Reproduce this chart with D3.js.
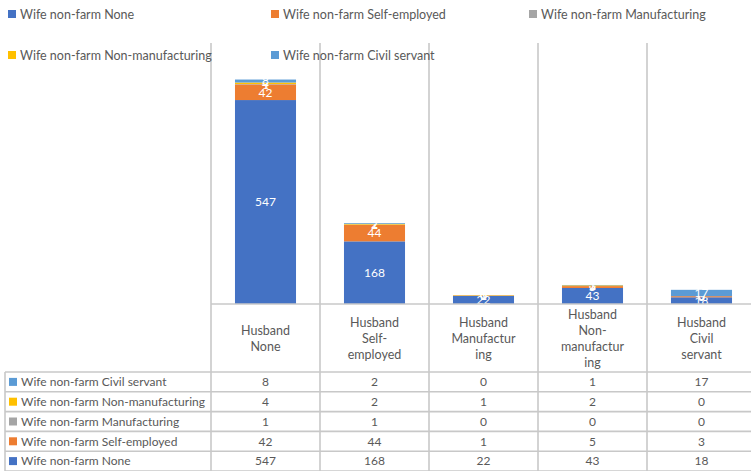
<!DOCTYPE html>
<html>
<head>
<meta charset="utf-8">
<script src="https://cdn.jsdelivr.net/npm/d3@7"></script>
<style>
  body { margin: 0; background: #fff; }
  svg text { font-family: Lato, "Open Sans", sans-serif; }
</style>
</head>
<body>
<div id="chart"></div>
<script>
// data
var categories = ["Husband None", "Husband Self-employed", "Husband Manufacturing", "Husband Non-manufacturing", "Husband Civil servant"];
var categoryLines = [["Husband", "None"], ["Husband", "Self-", "employed"], ["Husband", "Manufactur", "ing"], ["Husband", "Non-", "manufactur", "ing"], ["Husband", "Civil", "servant"]];
var seriesNames = ["Wife non-farm None", "Wife non-farm Self-employed", "Wife non-farm Manufacturing", "Wife non-farm Non-manufacturing", "Wife non-farm Civil servant"];
var wifeNone = [547, 168, 22, 43, 18];
var wifeSelf = [42, 44, 1, 5, 3];
var wifeManu = [1, 1, 0, 0, 0];
var wifeNonManu = [4, 2, 1, 2, 0];
var wifeCivil = [8, 2, 0, 1, 17];
var colors = ["#4472C4", "#ED7D31", "#A5A5A5", "#FFC000", "#5B9BD5"];

var series = [wifeNone, wifeSelf, wifeManu, wifeNonManu, wifeCivil];

var W = 751, H = 471;
var plotLeft = 211, plotTop = 43, plotBottom = 304;
var colW = 109;
var headerBottom = 372, rowH = 19.8;
var gridColor = "#c8c8c8", textColor = "#595959";

var svg = d3.select("#chart").append("svg")
    .attr("width", W)
    .attr("height", H);

var x = d3.scaleBand()
    .domain(categories)
    .range([plotLeft, plotLeft + colW * categories.length])
    .paddingInner(0)
    .paddingOuter(0);

var y = d3.scaleLinear().domain([0, 700]).range([plotBottom, plotTop]);

var rows = categories.map(function(c, i) {
    var r = { cat: c };
    seriesNames.forEach(function(s, j) { r[s] = series[j][i]; });
    return r;
});
var stacked = d3.stack().keys(seriesNames)(rows);

// vertical grid (category separators)
var edges = d3.range(categories.length + 1).map(function(i) { return plotLeft + colW * i; });
svg.append("g").selectAll("line")
    .data(edges)
    .enter().append("line")
    .attr("x1", function(d) { return d; })
    .attr("x2", function(d) { return d; })
    .attr("y1", plotTop)
    .attr("y2", headerBottom)
    .attr("stroke", gridColor)
    .attr("stroke-width", 1.6);

// bars
var barW = x.bandwidth() * 0.56;
var layers = svg.append("g").selectAll("g")
    .data(stacked)
    .enter().append("g")
    .attr("fill", function(d, i) { return colors[i]; });

layers.selectAll("rect")
    .data(function(d) { return d; })
    .enter().append("rect")
    .attr("x", function(d) { return x(d.data.cat) + (x.bandwidth() - barW) / 2; })
    .attr("width", barW)
    .attr("y", function(d) { return y(d[1]); })
    .attr("height", function(d) { return y(d[0]) - y(d[1]); });

// data labels (they pile up on the thin segments, as in the original)
layers.selectAll("text")
    .data(function(d) { return d; })
    .enter().append("text")
    .attr("x", function(d) { return x(d.data.cat) + x.bandwidth() / 2; })
    .attr("y", function(d) { return (y(d[0]) + y(d[1])) / 2; })
    .attr("dy", "0.36em")
    .attr("text-anchor", "middle")
    .attr("fill", "#fff")
    .attr("font-size", 12)
    .text(function(d) { return d[1] - d[0]; });

// table: horizontal lines
svg.append("line")
    .attr("x1", plotLeft).attr("x2", W)
    .attr("y1", plotBottom).attr("y2", plotBottom)
    .attr("stroke", gridColor).attr("stroke-width", 1.6);

var rowLines = d3.range(seriesNames.length + 1).map(function(i) { return headerBottom + rowH * i; });
svg.append("g").selectAll("line")
    .data(rowLines)
    .enter().append("line")
    .attr("x1", 5).attr("x2", W)
    .attr("y1", function(d) { return d; })
    .attr("y2", function(d) { return d; })
    .attr("stroke", gridColor)
    .attr("stroke-width", 1.6);

// table vertical lines
svg.append("g").selectAll("line")
    .data([5].concat(edges))
    .enter().append("line")
    .attr("x1", function(d) { return d; })
    .attr("x2", function(d) { return d; })
    .attr("y1", headerBottom)
    .attr("y2", H)
    .attr("stroke", gridColor)
    .attr("stroke-width", 1.6);

// category header labels
var headers = svg.append("g").selectAll("text")
    .data(categories)
    .enter().append("text")
    .attr("text-anchor", "middle")
    .attr("fill", textColor)
    .attr("font-size", 12.5)
    .attr("x", function(d) { return x(d) + x.bandwidth() / 2; })
    .attr("y", function(d, i) {
        var n = categoryLines[i].length;
        return (plotBottom + headerBottom) / 2 - (n - 1) * 16 / 2;
    });

headers.selectAll("tspan")
    .data(function(d, i) { return categoryLines[i]; })
    .enter().append("tspan")
    .attr("x", function() { return this.parentNode.getAttribute("x"); })
    .attr("dy", function(d, i) { return i === 0 ? "0.36em" : 16; })
    .text(function(d) { return d; });

// table rows (reversed order: last series on top)
var order = d3.range(seriesNames.length).reverse();
order.forEach(function(si, r) {
    var cy = headerBottom + rowH * r + rowH / 2;
    svg.append("rect")
        .attr("x", 9).attr("y", cy - 4)
        .attr("width", 8).attr("height", 8)
        .attr("fill", colors[si]);
    svg.append("text")
        .attr("x", 21).attr("y", cy)
        .attr("dy", "0.36em")
        .attr("fill", textColor)
        .attr("font-size", 12)
        .text(seriesNames[si]);
    svg.append("g").selectAll("text")
        .data(series[si])
        .enter().append("text")
        .attr("x", function(d, i) { return x(categories[i]) + x.bandwidth() / 2; })
        .attr("y", cy)
        .attr("dy", "0.36em")
        .attr("text-anchor", "middle")
        .attr("fill", textColor)
        .attr("font-size", 12)
        .text(function(d) { return d; });
});

// legend
var legendPos = [[8, 14], [271, 14], [529, 14], [8, 55], [271, 55]];
var legend = svg.append("g").selectAll("g")
    .data(seriesNames)
    .enter().append("g")
    .attr("transform", function(d, i) { return "translate(" + legendPos[i][0] + "," + legendPos[i][1] + ")"; });

legend.append("rect")
    .attr("x", 0).attr("y", -4)
    .attr("width", 8).attr("height", 8)
    .attr("fill", function(d, i) { return colors[i]; });

legend.append("text")
    .attr("x", 12)
    .attr("dy", "0.36em")
    .attr("fill", textColor)
    .attr("font-size", 12.5)
    .text(function(d) { return d; });
</script>
</body>
</html>
